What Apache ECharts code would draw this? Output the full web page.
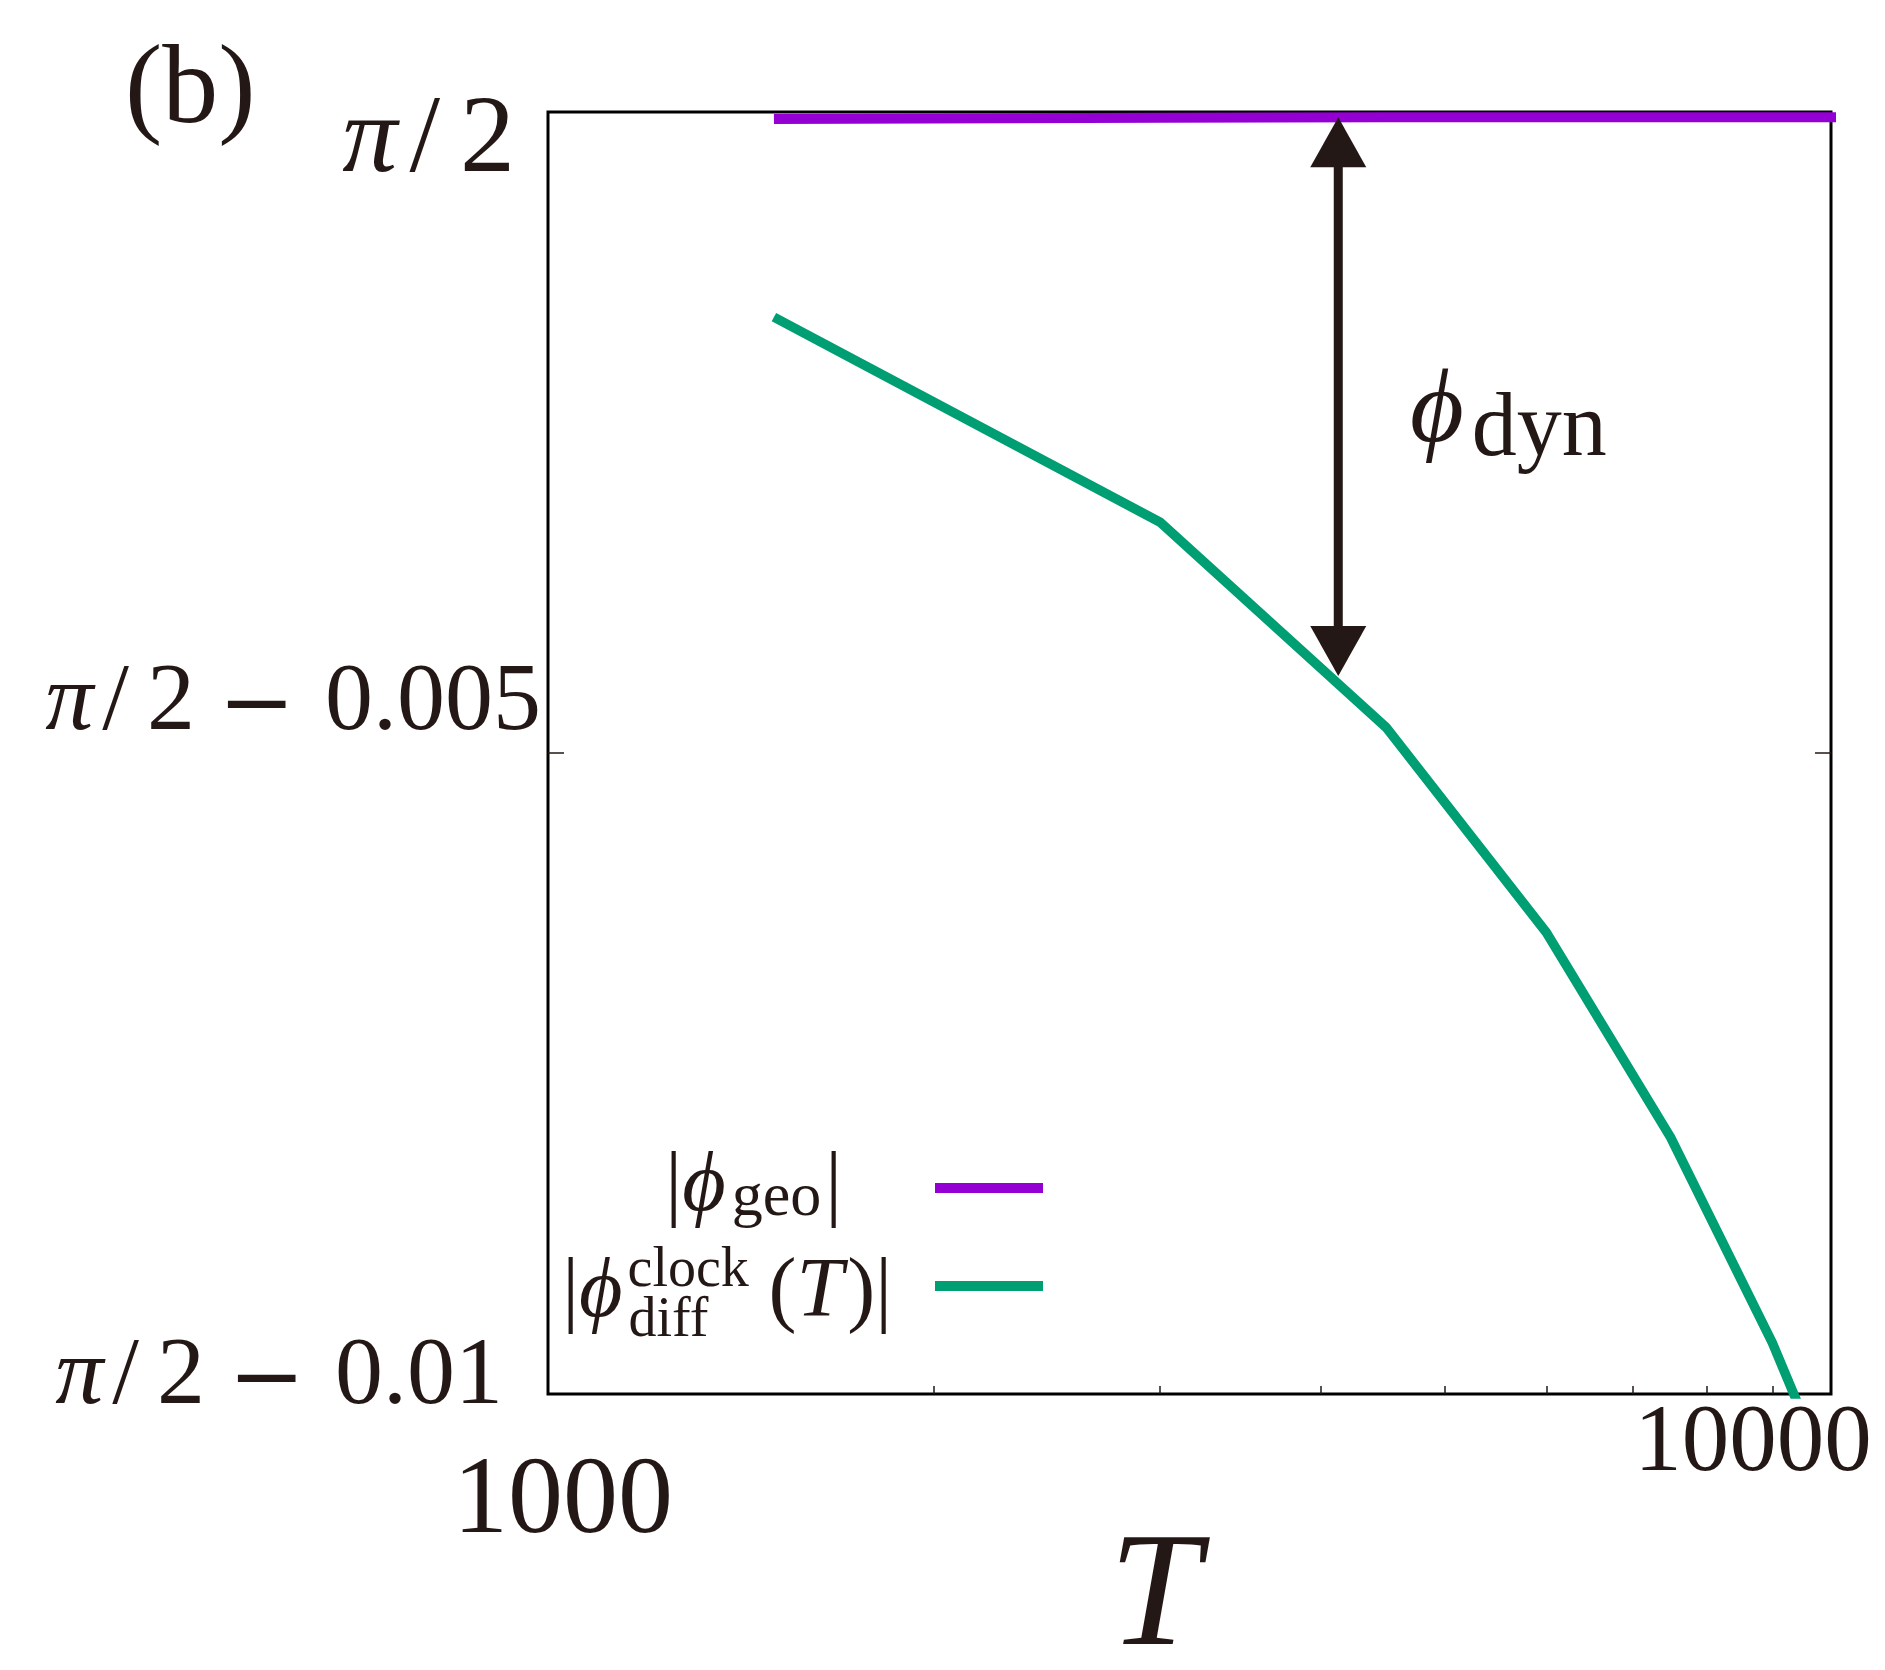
<!DOCTYPE html>
<html>
<head>
<meta charset="utf-8">
<script src="https://cdn.jsdelivr.net/npm/echarts@6/dist/echarts.min.js"></script>
<style>
html,body{margin:0;padding:0;background:#fff;}
#c{width:1885px;height:1670px;}
</style>
</head>
<body>
<div id="c"></div>
<script>
// ---- data ----
const T = [1500, 3000, 4500, 6000, 7500, 9000, 10500];
// values given as offset from pi/2
const geoOffset = [-0.000055, -0.000045, -0.00004, -0.00004, -0.00004, -0.00004, -0.00004];
const clockOffset = [-0.0016, -0.0032, -0.0048, -0.0064, -0.0080, -0.0096, -0.0112];
const xTickValues = [2000, 3000, 4000, 5000, 6000, 7000, 8000, 9000];
const xLabelValues = [1000, 10000];
const yLabelValues = [0, -0.005, -0.01];
const yLabelTexts = ['π/2', 'π/2 − 0.005', 'π/2 − 0.01'];
const yTickValues = [-0.005];
const arrowT = [4130, 4130];
const arrowOffset = [-0.00004, -0.0044];
const geoName = '|ϕgeo|';
const clockName = '|ϕclock diff(T)|';

const FONT = "'Liberation Serif','DejaVu Serif',serif";
const MINUS_FONT = "'DejaVu Serif','Liberation Serif',serif";
const INK = '#231815';
const PURPLE = '#9400d3';
const GREEN = '#009e73';

const chart = echarts.init(document.getElementById('c'));

// ---- y label rich styles (per label: font size, vertical shift padding, right padding) ----
const yLabStyle = [
  {fs: 110, pt: 60, pb: 0, pr: 27, g: [12, 20, 0, 0]},
  {fs: 96, pt: 0, pb: 98, pr: 1, g: [9, 18, 23, 30]},
  {fs: 96, pt: 0, pb: 32, pr: 39, g: [9, 18, 23, 30]}
];
const yRich = {};
yLabStyle.forEach(function(s, i){
  const base = {fontFamily: FONT, fontSize: s.fs, color: INK, align: 'left'};
  yRich['p' + i] = Object.assign({}, base, {fontStyle: 'italic', padding: [s.pt, s.g[0], s.pb, 0]});
  yRich['s' + i] = Object.assign({}, base, {padding: [s.pt, s.g[1], s.pb, 0]});
  yRich['d' + i] = Object.assign({}, base, {padding: [s.pt, i === 0 ? s.pr : s.g[2], s.pb, 0]});
  yRich['m' + i] = Object.assign({}, base, {fontFamily: MINUS_FONT, fontSize: 92, padding: [s.pt + 10, s.g[3], s.pb, 0]});
  yRich['n' + i] = Object.assign({}, base, {padding: [s.pt, s.pr, s.pb, 0]});
});
function yLabelRich(i){
  const txt = yLabelTexts[i];
  const parts = txt.split(' − ');
  const head = parts[0]; // π/2
  let out = '{p' + i + '|' + head.charAt(0) + '}{s' + i + '|/}{d' + i + '|' + head.slice(2) + '}';
  if (parts.length > 1) out += '{m' + i + '|−}{n' + i + '|' + parts[1] + '}';
  return out;
}

// ---- legend rich styles ----
function lr(extra){ return Object.assign({fontFamily: FONT, lineHeight: 100, color: INK, align: 'left'}, extra); }
const legendRich = {
  gbar: lr({fontSize: 84}),
  gphi: lr({fontSize: 84, fontStyle: 'italic', padding: [0, 6, 0, 0]}),
  gsub: lr({fontSize: 62, padding: [22, 4, 0, 0]}),
  gend: lr({fontSize: 84, padding: [0, 88, 0, 0]}),
  cbar: lr({fontSize: 84, padding: [16, 0, 0, 0]}),
  cphi: lr({fontSize: 84, fontStyle: 'italic', padding: [16, 5, 0, 0]}),
  csup: lr({fontSize: 56, width: 1, padding: [0, 0, 30, 0]}),
  csub: lr({fontSize: 56, width: 132, padding: [70, 0, 0, 0]}),
  cm: lr({fontSize: 84, padding: [16, 0, 0, 0]}),
  cmo: lr({fontSize: 84, padding: [16, 0, 0, 8]}),
  cit: lr({fontSize: 84, fontStyle: 'italic', padding: [16, 4, 0, 0]}),
  cend: lr({fontSize: 84, padding: [16, 38, 0, 0]})
};
const legendCommon = {
  orient: 'vertical', align: 'right', padding: 0, icon: 'rect',
  itemWidth: 108, itemHeight: 10, selectedMode: false,
  textStyle: {fontFamily: FONT, color: INK, rich: legendRich}
};

const option = {
  animation: false,
  backgroundColor: '#fff',
  title: {
    text: '(b)', left: 125, top: 37, padding: 0,
    textStyle: {fontFamily: FONT, fontSize: 112, fontWeight: 'normal', color: INK}
  },
  grid: {
    left: 548, top: 112, width: 1283, height: 1282,
    show: true, borderColor: '#000', borderWidth: 3,
    outerBoundsMode: 'none'
  },
  legend: [
    Object.assign({}, legendCommon, {
      data: [geoName], right: 842, top: 1146,
      formatter: function(){ return '{gbar||}{gphi|ϕ}{gsub|geo}{gend||}'; }
    }),
    Object.assign({}, legendCommon, {
      data: [clockName], right: 842, top: 1223,
      formatter: function(){ return '{cbar||}{cphi|ϕ}{csup|clock}{csub|diff}{cmo|(}{cit|T}{cm|)}{cend||}'; }
    })
  ],
  xAxis: {
    type: 'log', logBase: 10, min: 1000, max: 10000,
    axisLine: {show: false, onZero: false}, splitLine: {show: false}, minorTick: {show: false},
    axisTick: {show: true, inside: true, length: 8, customValues: xTickValues, lineStyle: {color: INK, width: 1.5}},
    axisLabel: {
      show: true, customValues: xLabelValues, margin: 4,
      formatter: function(v){
        const r = Math.round(v);
        return r < 5000 ? '{a|' + xLabelValues[0] + '}' : '{b|' + xLabelValues[1] + '}';
      },
      rich: {
        a: {fontFamily: FONT, fontSize: 110, color: INK, padding: [50, 0, 0, 30]},
        b: {fontFamily: FONT, fontSize: 95, color: INK, padding: [0, 156, 0, 0]}
      }
    },
    name: 'T', nameLocation: 'middle', nameGap: 125, nameMoveOverlap: false,
    nameTextStyle: {fontFamily: FONT, fontSize: 164, fontStyle: 'italic', color: INK, padding: [0, 70, 0, 0]}
  },
  yAxis: [
    {
      type: 'value', min: -0.01, max: 0, interval: 0.005,
      axisLine: {show: false, onZero: false}, splitLine: {show: false},
      axisTick: {show: true, inside: true, length: 16, customValues: yTickValues, lineStyle: {color: INK, width: 1.5}},
      axisLabel: {
        customValues: yLabelValues, margin: 6,
        formatter: function(v){
          let idx = 0;
          yLabelValues.forEach(function(y, i){ if (Math.abs(y - v) < 1e-9) idx = i; });
          return yLabelRich(idx);
        },
        rich: yRich
      }
    },
    {
      type: 'value', position: 'right', min: -0.01, max: 0, interval: 0.005,
      axisLine: {show: false, onZero: false}, splitLine: {show: false},
      axisTick: {show: true, inside: true, length: 16, customValues: yTickValues, lineStyle: {color: INK, width: 1.5}},
      axisLabel: {show: false}
    }
  ],
  series: [
    {
      name: geoName, type: 'line', data: T.map(function(t, i){ return [t, geoOffset[i]]; }),
      showSymbol: false, symbol: 'none', color: PURPLE,
      lineStyle: {color: PURPLE, width: 10, join: 'miter'}, z: 3, silent: true
    },
    {
      name: clockName, type: 'line', data: T.map(function(t, i){ return [t, clockOffset[i]]; }),
      showSymbol: false, symbol: 'none', color: GREEN,
      lineStyle: {color: GREEN, width: 9.5, join: 'miter'}, z: 2, silent: true
    }
  ],
  graphic: [
    {
      id: 'dynLabel', type: 'text', left: 1410, top: 352, z: 10,
      style: {
        text: '{phi|ϕ}{sub|dyn}',
        rich: {
          phi: {fontFamily: FONT, fontSize: 104, fontStyle: 'italic', lineHeight: 110, fill: INK, padding: [0, 8, 0, 0]},
          sub: {fontFamily: FONT, fontSize: 90, lineHeight: 110, padding: [34, 0, 0, 0], fill: INK}
        }
      }
    }
  ]
};

chart.setOption(option);

// double-headed arrow between the two curves, positioned through the axes
const p1 = chart.convertToPixel({xAxisIndex: 0, yAxisIndex: 0}, [arrowT[0], arrowOffset[0]]);
const p2 = chart.convertToPixel({xAxisIndex: 0, yAxisIndex: 0}, [arrowT[1], arrowOffset[1]]);
const hw = 28, hh = 50;
chart.setOption({
  graphic: [
    {id: 'arrowShaft', type: 'line', z: 20,
     shape: {x1: p1[0], y1: p1[1] + hh - 2, x2: p2[0], y2: p2[1] - hh + 2},
     style: {stroke: INK, lineWidth: 9}},
    {id: 'arrowTop', type: 'polygon', z: 21,
     shape: {points: [[p1[0], p1[1]], [p1[0] - hw, p1[1] + hh], [p1[0] + hw, p1[1] + hh]]},
     style: {fill: INK}},
    {id: 'arrowBot', type: 'polygon', z: 21,
     shape: {points: [[p2[0], p2[1]], [p2[0] - hw, p2[1] - hh], [p2[0] + hw, p2[1] - hh]]},
     style: {fill: INK}}
  ]
});
</script>
</body>
</html>
